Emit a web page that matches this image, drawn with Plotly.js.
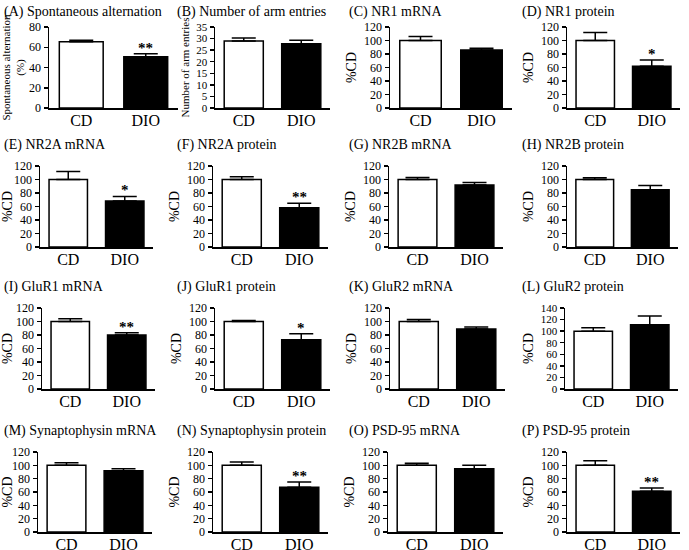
<!DOCTYPE html>
<html>
<head>
<meta charset="utf-8">
<script src="https://cdn.plot.ly/plotly-3.0.1.min.js"></script>
<style>html,body{margin:0;padding:0;background:#fff}#chart{width:689px;height:550px}</style>
</head>
<body>
<div id="chart"></div>
<script>
// ---- data ----
const groups = ["CD", "DIO"];
const panelTitles = ["(A) Spontaneous alternation", "(B) Number of arm entries", "(C) NR1 mRNA", "(D) NR1 protein",
  "(E) NR2A mRNA", "(F) NR2A protein", "(G) NR2B mRNA", "(H) NR2B protein",
  "(I) GluR1 mRNA", "(J) GluR1 protein", "(K) GluR2 mRNA", "(L) GluR2 protein",
  "(M) Synaptophysin mRNA", "(N) Synaptophysin protein", "(O) PSD-95 mRNA", "(P) PSD-95 protein"];
const yTitles = ["Spontaneous alternation<br>(%)", "Number of arm entries", "%CD", "%CD",
  "%CD", "%CD", "%CD", "%CD", "%CD", "%CD", "%CD", "%CD", "%CD", "%CD", "%CD", "%CD"];
const cdValues  = [65.5, 29, 100, 100, 100, 100, 100, 100, 100, 100, 100, 100, 100, 100, 100, 100];
const cdErr     = [1.5, 1.2, 6, 12, 12, 4, 3, 2.5, 4, 1.5, 3, 6, 4, 5, 3, 7];
const dioValues = [50.5, 27.8, 86, 62, 68, 58, 92, 85, 80, 73, 89, 111, 92, 67, 95, 61];
const dioErr    = [3, 1.5, 2.5, 9, 7, 7, 3.5, 6, 3.5, 9, 3, 15, 3, 8, 5, 5];
const significance = ["**", "", "", "*", "*", "**", "", "", "**", "*", "", "", "", "**", "", "**"];
const yMax  = [80, 35, 120, 120, 120, 120, 120, 120, 120, 120, 120, 140, 120, 120, 120, 120];
const yStep = [20, 5, 20, 20, 20, 20, 20, 20, 20, 20, 20, 20, 20, 20, 20, 20];

// ---- layout geometry (pixels) ----
const W = 689, H = 550;
const xSpans = [[49,178],[215,330],[390,512],[567,680],
                [40,153],[213,328],[389,503],[567,678],
                [42,155],[215,330],[390,505],[565,678],
                [38,152],[213,328],[388,503],[567,680]];
const ySpans = [[27,108],[166,247],[308,389],[452,532]];
const titleX = [2, 175, 347, 520];
const titleY = [12, 145, 287, 431];

const FONT = '"Liberation Serif", "Times New Roman", Times, serif';
const data = [];
const layout = {
  width: W, height: H, margin: {l:0, r:0, t:0, b:0},
  paper_bgcolor: "#fff", plot_bgcolor: "#fff",
  showlegend: false, annotations: [], font: {family: FONT, color: "#000"}
};

for (let i = 0; i < 16; i++) {
  const row = Math.floor(i / 4), col = i % 4;
  const ax = i === 0 ? "" : String(i + 1);
  const xa = "xaxis" + ax, ya = "yaxis" + ax;
  const [x0, x1] = xSpans[i];
  const [yt, yb] = ySpans[row];
  const denseTicks = yMax[i] / yStep[i] > 6;
  layout[xa] = {
    domain: [x0 / W, x1 / W], anchor: "y" + ax,
    type: "category", categoryorder: "array", categoryarray: groups,
    range: [-0.5, 1.5], showline: true, linecolor: "#000", linewidth: 1.5,
    ticks: "", showgrid: false, zeroline: false, fixedrange: true,
    ticklabelstandoff: -3,
    tickfont: {family: FONT, size: 16, color: "#000"}
  };
  layout[ya] = {
    domain: [1 - yb / H, 1 - yt / H], anchor: "x" + ax,
    range: [0, yMax[i]], dtick: yStep[i], tick0: 0,
    showline: true, linecolor: "#000", linewidth: 1.5,
    ticks: "outside", ticklen: 4, tickwidth: 1.5, tickcolor: "#000",
    showgrid: false, zeroline: false, fixedrange: true,
    tickfont: {family: FONT, size: denseTicks ? 11 : 12, color: "#000"},
    title: {text: yTitles[i], font: {family: FONT, size: i < 2 ? 11 : 14, color: "#000"}, standoff: 4}
  };
  const xref = "x" + ax, yref = "y" + ax;
  data.push({
    type: "bar", x: groups, y: [cdValues[i], dioValues[i]],
    xaxis: xref, yaxis: yref, width: 0.68,
    marker: {color: ["#ffffff", "#000000"], line: {color: "#000", width: 1.5}},
    error_y: {type: "data", symmetric: false, array: [cdErr[i], dioErr[i]], arrayminus: [0, 0],
      color: "#000", thickness: 1.5, width: 12},
    hoverinfo: "skip"
  });
  if (significance[i]) {
    layout.annotations.push({
      xref: xref, yref: yref, x: groups[1], y: dioValues[i] + dioErr[i],
      text: "<b>" + significance[i] + "</b>", showarrow: false, yanchor: "bottom", yshift: -4,
      font: {family: FONT, size: 15, color: "#000"}
    });
  }
  layout.annotations.push({
    xref: "paper", yref: "paper", x: titleX[col] / W, y: 1 - titleY[row] / H,
    xanchor: "left", yanchor: "middle", text: panelTitles[i], showarrow: false,
    font: {family: FONT, size: 14, color: "#000"}
  });
}

Plotly.newPlot("chart", data, layout, {staticPlot: true});
</script>
</body>
</html>
